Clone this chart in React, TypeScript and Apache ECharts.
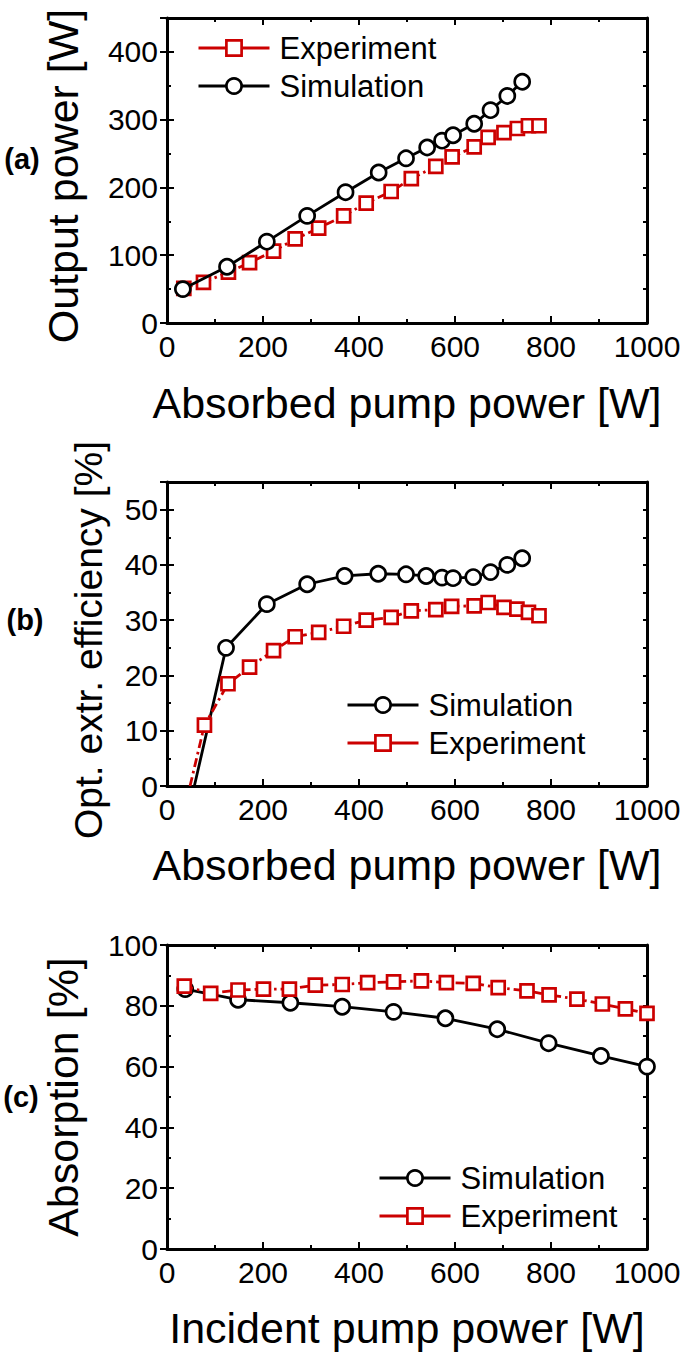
import React, { useEffect, useRef } from 'react';
import * as echarts from 'echarts';

const FONT = '"Liberation Sans", Arial, Helvetica, sans-serif';
const RED = '#cc0000';
const BLACK = '#000000';

// Panel (a): output power vs absorbed pump power
const aSimX = [33, 125, 208, 292, 372, 441, 498, 542, 573, 596, 640, 674, 709, 740];
const aSimY = [50, 83, 120, 158, 193, 222, 243, 259, 269, 277, 294, 314, 335, 356];
const aExpX = [35, 76, 128, 172, 222, 267, 316, 368, 415, 467, 509, 560, 594, 640, 669, 702, 730, 753, 775];
const aExpY = [51, 60, 75, 89, 106, 124, 140, 158, 177, 194, 213, 231, 245, 260, 274, 281, 287, 291, 291];

// Panel (b): optical extraction efficiency vs absorbed pump power
const bSimX = [57, 123, 208, 292, 370, 440, 498, 540, 573, 596, 638, 674, 709, 740];
const bSimY = [0, 25, 32.9, 36.5, 38, 38.4, 38.3, 38, 37.7, 37.6, 37.8, 38.7, 40, 41.2];
const bExpX = [48, 78, 127, 172, 222, 267, 316, 368, 415, 467, 509, 560, 593, 640, 669, 702, 729, 753, 775];
const bExpY = [0, 11, 18.5, 21.5, 24.5, 27, 27.8, 28.9, 30, 30.5, 31.7, 31.9, 32.5, 32.6, 33.2, 32.3, 32, 31.4, 30.8];

// Panel (c): absorption vs incident pump power
const cSimX = [38, 148, 257, 365, 472, 580, 688, 795, 904, 1000];
const cSimY = [85.5, 82, 81, 79.7, 78, 75.9, 72.3, 67.7, 63.5, 60];
const cExpX = [36, 91, 148, 201, 255, 309, 365, 418, 472, 530, 582, 638, 690, 750, 796, 854, 907, 955, 1000];
const cExpY = [86.5, 84.1, 85.2, 85.5, 85.5, 86.8, 87, 87.6, 87.9, 88.2, 87.6, 87.4, 86, 84.9, 83.6, 82.2, 80.6, 79, 77.5];

const SERIES_NAMES = ['Experiment', 'Simulation'];
const PANEL_LABELS = ['(a)', '(b)', '(c)'];
const X_TITLES = ['Absorbed pump power [W]', 'Absorbed pump power [W]', 'Incident pump power [W]'];
const Y_TITLES = ['Output power [W]', 'Opt. extr. efficiency [%]', 'Absorption [%]'];
const Y_MAX = [450, 55, 100];
const Y_MAJOR = [100, 10, 20];
const Y_MINOR = [50, 5, 10];
const X_MAX = 1000;
const X_MAJOR = 200;

const zip = (xs: number[], ys: number[], noMarkerAtZero = false) =>
  xs.map((x, i) =>
    noMarkerAtZero && i === 0 ? { value: [x, ys[i]], symbol: 'none' } : [x, ys[i]]
  );

const grids = [
  { left: 167, top: 18, width: 480, height: 305 },
  { left: 167, top: 482, width: 480, height: 304 },
  { left: 167, top: 945, width: 480, height: 304 },
];

const lineAx = { show: true, onZero: false, lineStyle: { color: BLACK, width: 3 } };
const tickMajor = { show: true, inside: true, length: 7, lineStyle: { color: BLACK, width: 2 } };
const tickMinor = { show: true, inside: true, length: 4, lineStyle: { color: BLACK, width: 2 } };

function xAxesFor(gi: number) {
  const base = { type: 'value', gridIndex: gi, min: 0, max: X_MAX, interval: X_MAJOR, splitLine: { show: false } };
  const minor = { show: true, splitNumber: 2, length: 4, lineStyle: { color: BLACK, width: 2 } };
  return [
    {
      ...base, position: 'bottom', axisLine: lineAx, axisTick: tickMajor, minorTick: minor,
      axisLabel: { show: true, color: BLACK, fontSize: 30, fontFamily: FONT, margin: 8, formatter: (v: number) => String(v) },
    },
    { ...base, position: 'top', axisLine: lineAx, axisTick: tickMajor, minorTick: minor, axisLabel: { show: false } },
  ];
}

function yAxesFor(gi: number) {
  const max = Y_MAX[gi];
  const major = Y_MAJOR[gi];
  const minor = Y_MINOR[gi];
  const base = { type: 'value', gridIndex: gi, min: 0, max, splitLine: { show: false } };
  return [
    {
      ...base, position: 'left', interval: minor, axisLine: lineAx, axisTick: tickMinor,
      axisLabel: {
        show: true, color: BLACK, fontSize: 30, fontFamily: FONT, margin: 9,
        formatter: (v: number) => (Math.abs(v % major) < 1e-9 ? String(v) : ''),
      },
    },
    { ...base, position: 'left', interval: major, axisLine: { show: false }, axisTick: tickMajor, axisLabel: { show: false } },
    { ...base, position: 'right', interval: minor, axisLine: lineAx, axisTick: tickMinor, axisLabel: { show: false } },
    { ...base, position: 'right', interval: major, axisLine: { show: false }, axisTick: tickMajor, axisLabel: { show: false } },
  ];
}

const expStyle = {
  symbol: 'rect',
  symbolSize: 13,
  itemStyle: { color: '#ffffff', borderColor: RED, borderWidth: 2.7 },
  lineStyle: { color: RED, width: 2.8, type: [9, 4, 2.5, 4] },
};
const simStyle = {
  symbol: 'circle',
  symbolSize: 15,
  itemStyle: { color: '#ffffff', borderColor: BLACK, borderWidth: 2.7 },
  lineStyle: { color: BLACK, width: 2.8, type: 'solid' },
};

function mkSeries(gi: number, name: string, data: any[], style: any, z: number) {
  return {
    type: 'line', name, xAxisIndex: gi * 2, yAxisIndex: gi * 4, data,
    ...style, z, showSymbol: true, clip: false, emphasis: { disabled: true },
  };
}

function mkLegend(left: number, top: number, order: string[]) {
  return {
    orient: 'vertical', left, top, padding: 0, itemGap: 7, itemWidth: 71, itemHeight: 19,
    selectedMode: false,
    data: order.map((n) => ({ name: n })),
    lineStyle: { type: 'solid', width: 3 },
    itemStyle: { borderWidth: 2.7 },
    textStyle: { color: BLACK, fontSize: 31, fontFamily: FONT, padding: [0, 0, 0, 5] },
  };
}

export default function App() {
  const ref = useRef<HTMLDivElement>(null);
  useEffect(() => {
    document.body.style.margin = '0';
    if (!ref.current) return;
    const chart = echarts.init(ref.current, undefined, { renderer: 'svg' });

    const xAxis: any[] = [];
    const yAxis: any[] = [];
    for (let gi = 0; gi < 3; gi++) {
      xAxis.push(...xAxesFor(gi));
      yAxis.push(...yAxesFor(gi));
    }

    const series = [
      mkSeries(0, 'Experiment', zip(aExpX, aExpY), expStyle, 2),
      mkSeries(0, 'Simulation', zip(aSimX, aSimY), simStyle, 3),
      mkSeries(1, 'Simulation', zip(bSimX, bSimY, true), simStyle, 2),
      mkSeries(1, 'Experiment', zip(bExpX, bExpY, true), expStyle, 3),
      mkSeries(2, 'Simulation', zip(cSimX, cSimY), simStyle, 2),
      mkSeries(2, 'Experiment', zip(cExpX, cExpY), expStyle, 3),
    ];

    const titleFont = { fill: BLACK, fontFamily: FONT };
    const graphic: any[] = [
      { type: 'text', x: 407, y: 403, style: { ...titleFont, text: X_TITLES[0], fontSize: 43, align: 'center', verticalAlign: 'middle' } },
      { type: 'text', x: 407, y: 865, style: { ...titleFont, text: X_TITLES[1], fontSize: 43, align: 'center', verticalAlign: 'middle' } },
      { type: 'text', x: 407, y: 1328, style: { ...titleFont, text: X_TITLES[2], fontSize: 43, align: 'center', verticalAlign: 'middle' } },
      { type: 'text', x: 63, y: 176, rotation: Math.PI / 2, style: { ...titleFont, text: Y_TITLES[0], fontSize: 43, align: 'center', verticalAlign: 'middle' } },
      { type: 'text', x: 88, y: 640, rotation: Math.PI / 2, style: { ...titleFont, text: Y_TITLES[1], fontSize: 39, align: 'center', verticalAlign: 'middle' } },
      { type: 'text', x: 63, y: 1097, rotation: Math.PI / 2, style: { ...titleFont, text: Y_TITLES[2], fontSize: 43, align: 'center', verticalAlign: 'middle' } },
      { type: 'text', x: 22, y: 159, style: { ...titleFont, text: PANEL_LABELS[0], fontSize: 29, fontWeight: 'bold', align: 'center', verticalAlign: 'middle' } },
      { type: 'text', x: 25, y: 620, style: { ...titleFont, text: PANEL_LABELS[1], fontSize: 29, fontWeight: 'bold', align: 'center', verticalAlign: 'middle' } },
      { type: 'text', x: 21, y: 1097, style: { ...titleFont, text: PANEL_LABELS[2], fontSize: 29, fontWeight: 'bold', align: 'center', verticalAlign: 'middle' } },
    ];

    chart.setOption({
      animation: false,
      backgroundColor: '#ffffff',
      grid: grids.map((g) => ({ ...g, containLabel: false })),
      xAxis,
      yAxis,
      series,
      legend: [
        mkLegend(197, 32.5, [SERIES_NAMES[0], SERIES_NAMES[1]]),
        mkLegend(346, 689.5, [SERIES_NAMES[1], SERIES_NAMES[0]]),
        mkLegend(378, 1162.5, [SERIES_NAMES[1], SERIES_NAMES[0]]),
      ],
      graphic,
    });
    return () => chart.dispose();
  }, []);
  return <div ref={ref} style={{ width: 685, height: 1358 }} />;
}
